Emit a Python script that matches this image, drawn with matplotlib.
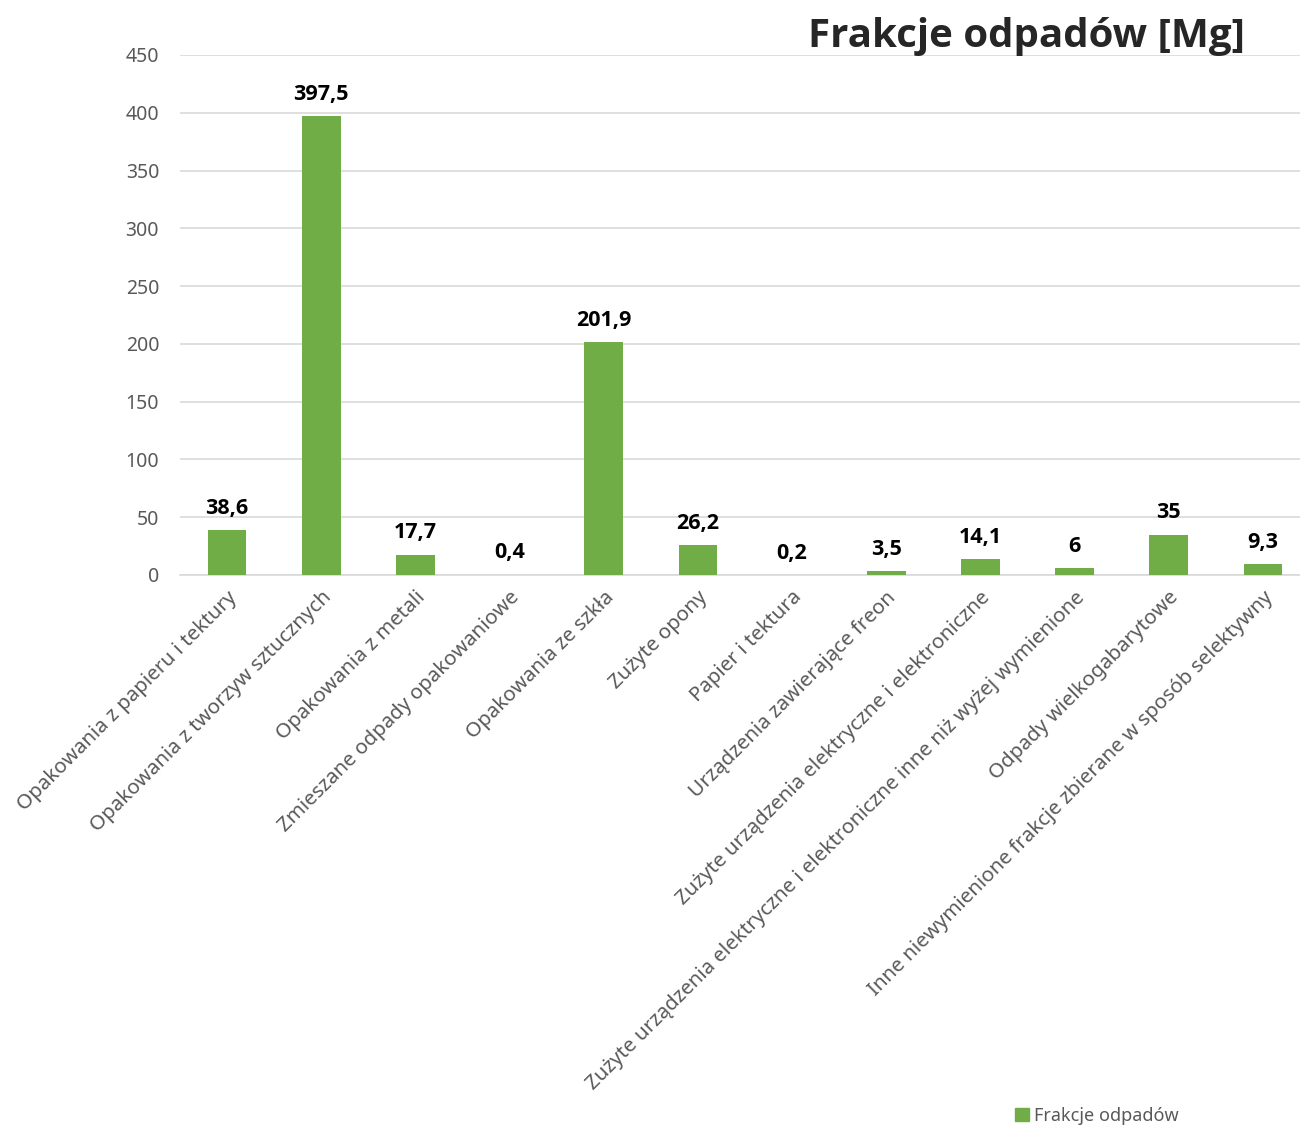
import matplotlib
matplotlib.use("Agg")
import matplotlib.pyplot as plt
from matplotlib.patches import Patch

plt.rcParams['font.family'] = ['Noto Sans', 'DejaVu Sans']
pogrubiona = ['Open Sans', 'DejaVu Sans']

# dane z wykresu
kategorie = [
    "Opakowania z papieru i tektury",
    "Opakowania z tworzyw sztucznych",
    "Opakowania z metali",
    "Zmieszane odpady opakowaniowe",
    "Opakowania ze szkła",
    "Zużyte opony",
    "Papier i tektura",
    "Urządzenia zawierające freon",
    "Zużyte urządzenia elektryczne i elektroniczne",
    "Zużyte urządzenia elektryczne i elektroniczne inne niż wyżej wymienione",
    "Odpady wielkogabarytowe",
    "Inne niewymienione frakcje zbierane w sposób selektywny",
]
wartosci = [38.6, 397.5, 17.7, 0.4, 201.9, 26.2, 0.2, 3.5, 14.1, 6, 35, 9.3]
etykiety = ["38,6", "397,5", "17,7", "0,4", "201,9", "26,2", "0,2", "3,5", "14,1", "6", "35", "9,3"]
y_ticks = [0, 50, 100, 150, 200, 250, 300, 350, 400, 450]

zielony = '#70AD47'
szary = '#595959'

fig = plt.figure(figsize=(13, 11.26), dpi=100)
ax = fig.add_axes([180 / 1300, 1 - 575 / 1126, 1130 / 1300, 520 / 1126])

x = list(range(len(kategorie)))
ax.bar(x, wartosci, width=0.41, color=zielony, zorder=3)

for xi, v, lab in zip(x, wartosci, etykiety):
    ax.annotate(lab, (xi, v), xytext=(0, 8), textcoords='offset points',
                ha='center', va='bottom', fontsize=15.5, fontweight='bold',
                color='black', family=pogrubiona)

ax.set_xlim(-0.5, len(kategorie) - 0.5)
ax.set_ylim(0, 450)
ax.set_yticks(y_ticks)
ax.set_yticklabels([str(t) for t in y_ticks], fontsize=14, color=szary)
ax.yaxis.grid(True, color='#D9D9D9', linewidth=1.2, zorder=0)
ax.set_axisbelow(True)

ax.set_xticks(x)
ax.set_xticklabels(kategorie, rotation=45, ha='right', rotation_mode='anchor',
                   fontsize=14.8, color=szary)
ax.tick_params(axis='both', length=0)
ax.tick_params(axis='y', pad=15)
ax.tick_params(axis='x', pad=9)

for s in ['top', 'right', 'left']:
    ax.spines[s].set_visible(False)
ax.spines['bottom'].set_color('#D9D9D9')
ax.spines['bottom'].set_linewidth(1.2)

fig.text(1245 / 1300, 1 - 37 / 1126, "Frakcje odpadów [Mg]", ha='right', va='center',
         fontsize=29, fontweight='bold', color='#262626', family=pogrubiona)

fig.legend(handles=[Patch(color=zielony, label="Frakcje odpadów")],
           loc='center', bbox_to_anchor=(1097 / 1300, 1 - 1116 / 1126),
           frameon=False, fontsize=13, handlelength=0.75, handleheight=0.75,
           handletextpad=0.3, labelcolor=szary)

fig.savefig("out.png", dpi=100)
